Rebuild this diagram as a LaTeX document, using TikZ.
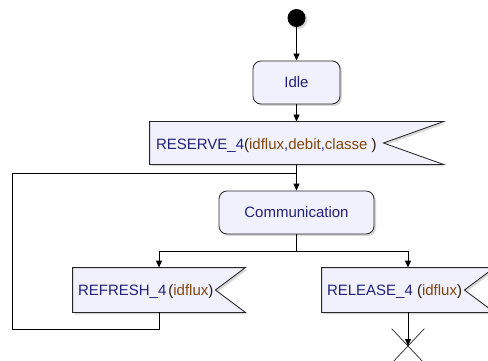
\documentclass[tikz,border=0pt]{standalone}
\usepackage{fontspec}
\setmainfont{Liberation Sans}
\usetikzlibrary{arrows.meta,calc,shadows,shapes.misc}
\definecolor{boxfill}{HTML}{F1F1FD}
\definecolor{navytxt}{HTML}{22227A}
\definecolor{parmtxt}{HTML}{80460C}
\definecolor{commatxt}{HTML}{3030D0}
\definecolor{parentxt}{HTML}{2A1A08}
\newcommand{\sgname}[1]{\textcolor{navytxt}{#1}}
\newcommand{\prmname}[1]{\textcolor{parmtxt}{#1}}
\newcommand{\cmname}{\textcolor{commatxt}{,}}
\newcommand{\parname}[1]{\textcolor{parentxt}{#1}}
\begin{document}
\begin{tikzpicture}[x=1pt,y=-1pt,
  line width=0.85pt,
  font=\fontsize{15}{18}\selectfont,
  shad/.style={drop shadow={shadow xshift=2pt,shadow yshift=-2pt,fill=black!22,opacity=0.7}},
  statebox/.style={rectangle,rounded corners=8pt,draw=black!85,fill=boxfill,shad,
    text=navytxt,minimum height=43pt,inner sep=0pt,text depth=0pt},
  sigbox/.style={rectangle,inner xsep=6pt,inner ysep=0pt,align=left,anchor=center},
  sigline/.style={draw=black!85,fill=boxfill,shad},
  arr/.style={-{Triangle[length=7pt,width=6pt]}},
]
\useasboundingbox (0,0) rectangle (488,361);
\clip (0,0) rectangle (488,361);

% initial node
\node[circle,fill=black,minimum size=18pt,inner sep=0pt,shad] (start) at (296.5,18) {};

% states
\node[statebox,minimum width=87pt] (idle) at (296.5,82.5) {Idle};
\node[statebox,minimum width=155pt] (comm) at (296.5,212.5) {Communication};

% signal boxes
\node[sigbox,minimum width=293pt,minimum height=42pt,text width=281pt] (reserve) at (296.5,143) {};
\node[sigbox,minimum width=172pt,minimum height=44pt,text width=160pt] (refresh) at (159,290) {};
\node[sigbox,minimum width=172pt,minimum height=44pt,text width=160pt] (release) at (408,290) {};

\path[sigline] (reserve.north west) -- (reserve.north east) -- ($(reserve.east)+(-60,0)$)
  -- (reserve.south east) -- (reserve.south west) -- cycle;
\path[sigline] (refresh.north west) -- (refresh.north east) -- ($(refresh.east)+(-30,0)$)
  -- (refresh.south east) -- (refresh.south west) -- cycle;
\path[sigline] (release.north west) -- (release.north east) -- ($(release.east)+(-30,0)$)
  -- (release.south east) -- (release.south west) -- cycle;

\node[anchor=west,inner sep=0pt] (reservetxt) at ($(reserve.west)+(6,3)$)
  {\sgname{RESERVE\_4}\parname{(}\prmname{idflux}\cmname\prmname{debit}\cmname\prmname{classe}\ \parname{)}};
\node[anchor=west,inner sep=0pt] (refreshtxt) at ($(refresh.west)+(5,2)$)
  {\sgname{REFRESH\_4}\kern2pt\parname{(}\prmname{idflux}\parname{)}};
\node[anchor=west,inner sep=0pt] (releasetxt) at ($(release.west)+(5,2)$)
  {\sgname{RELEASE\_4}\ \parname{(}\prmname{idflux}\parname{)}};

% final cross
\node[cross out,draw=black!85,line width=0.7pt,minimum width=32pt,minimum height=34pt,inner sep=0pt] (endx) at (408,346) {};

% helper coordinates
\coordinate (join) at (296.5,173);
\coordinate (looptl) at (12,173);
\coordinate (loopbl) at (12,329);
\coordinate (fork) at (296.5,251);

% connectors
\draw[arr] (start) -- (idle.north);
\draw[arr] (idle.south) -- (reserve.north);
\draw[arr] (reserve.south) -- (comm.north);
\draw (refresh.south) |- (loopbl) -- (looptl) -- (join);
\draw (comm.south) -- (fork);
\draw[arr] (fork) -| (refresh.north);
\draw[arr] (fork) -| (release.north);
\draw[arr] (release.south) -- (endx.center);
\end{tikzpicture}
\end{document}
